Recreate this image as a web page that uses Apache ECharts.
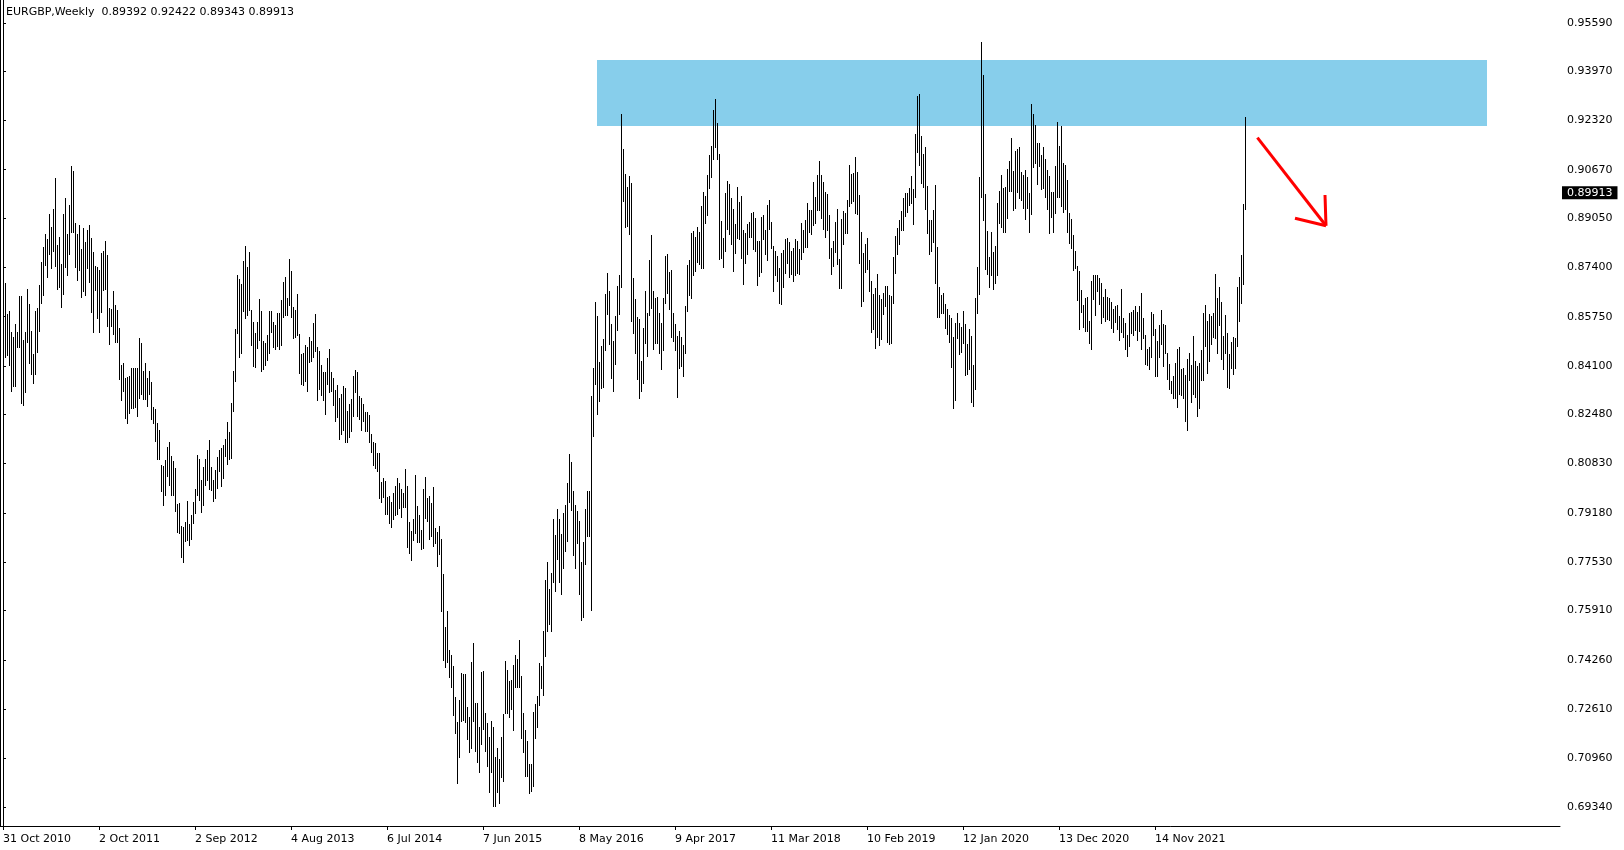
<!DOCTYPE html>
<html><head><meta charset="utf-8">
<script src="https://cdn.jsdelivr.net/npm/echarts@6/dist/echarts.min.js"></script>
<style>html,body{margin:0;padding:0;background:#fff}#c{width:1624px;height:850px}</style>
</head><body><div id="c"></div>
<script>
const symbolName = 'EURGBP,Weekly';
const lastBarOHLC = [0.89392, 0.92422, 0.89343, 0.89913];
const dateTickIndex = [0,48,96,144,192,240,288,336,384,432,480,528,576];
const dateTickLabels = ['31 Oct 2010','2 Oct 2011','2 Sep 2012','4 Aug 2013','6 Jul 2014','7 Jun 2015','8 May 2016','9 Apr 2017','11 Mar 2018','10 Feb 2019','12 Jan 2020','13 Dec 2020','14 Nov 2021'];
const priceTicks = [0.95590,0.93970,0.92320,0.90670,0.89050,0.87400,0.85750,0.84100,0.82480,0.80830,0.79180,0.77530,0.75910,0.74260,0.72610,0.70960,0.69340];
const zoneBars = [297, 742];
const zonePrices = [0.94344, 0.92134];
const arrowSegments = [
  [[627.2,0.91743],[661.5,0.88796]],
  [[661.0,0.89824],[661.5,0.88796]],
  [[646.0,0.89044],[661.5,0.88796]]
];
const highs = [
0.8815,0.8689,0.8584,0.8594,0.8525,0.8508,0.8550,0.8525,0.8645,0.8645,
0.8497,0.8525,0.8668,0.8617,0.8528,0.8450,0.8593,0.8605,0.8682,0.8758,
0.8808,0.8852,0.8835,0.8919,0.8875,0.8936,0.9039,0.8815,0.8842,0.8750,
0.8919,0.8974,0.8852,0.8949,0.9080,0.9062,0.8890,0.8853,0.8883,0.8802,
0.8873,0.8826,0.8864,0.8882,0.8838,0.8790,0.8745,0.8741,0.8730,0.8789,
0.8796,0.8829,0.8783,0.8605,0.8602,0.8661,0.8615,0.8597,0.8538,0.8413,
0.8420,0.8370,0.8374,0.8375,0.8404,0.8404,0.8404,0.8402,0.8504,0.8487,
0.8393,0.8420,0.8369,0.8394,0.8355,0.8273,0.8267,0.8220,0.8196,0.8079,
0.8075,0.8096,0.8140,0.8155,0.8110,0.8093,0.8068,0.7947,0.7950,0.7874,
0.7872,0.7889,0.7959,0.7880,0.7912,0.7955,0.7998,0.8113,0.8098,0.8027,
0.8073,0.8097,0.8128,0.8161,0.8072,0.8027,0.8062,0.8105,0.8129,0.8134,
0.8145,0.8165,0.8221,0.8188,0.8285,0.8393,0.8533,0.8714,0.8700,0.8683,
0.8761,0.8812,0.8740,0.8790,0.8597,0.8558,0.8520,0.8558,0.8634,0.8594,
0.8494,0.8488,0.8514,0.8594,0.8594,0.8557,0.8546,0.8587,0.8587,0.8631,
0.8691,0.8707,0.8636,0.8767,0.8727,0.8608,0.8597,0.8650,0.8517,0.8450,
0.8453,0.8480,0.8472,0.8506,0.8495,0.8555,0.8584,0.8472,0.8460,0.8413,
0.8391,0.8389,0.8438,0.8466,0.8391,0.8370,0.8331,0.8346,0.8302,0.8316,
0.8344,0.8337,0.8259,0.8283,0.8298,0.8377,0.8396,0.8390,0.8311,0.8303,
0.8282,0.8256,0.8256,0.8245,0.8182,0.8155,0.8151,0.8117,0.8117,0.8023,
0.8035,0.8026,0.7972,0.7974,0.7956,0.7983,0.8008,0.8034,0.8019,0.7998,
0.7983,0.8065,0.8008,0.7887,0.7857,0.7896,0.8045,0.7941,0.7910,0.7861,
0.7998,0.8037,0.7968,0.7975,0.7952,0.8005,0.7867,0.7853,0.7874,0.7831,
0.7713,0.7537,0.7590,0.7459,0.7442,0.7405,0.7303,0.7219,0.7292,0.7381,
0.7378,0.7378,0.7269,0.7236,0.7418,0.7482,0.7280,0.7280,0.7202,0.7385,
0.7389,0.7247,0.7213,0.7169,0.7221,0.7202,0.7102,0.7130,0.7094,0.7169,
0.7245,0.7423,0.7392,0.7356,0.7359,0.7409,0.7442,0.7428,0.7493,0.7372,
0.7247,0.7191,0.7154,0.7077,0.7077,0.7251,0.7277,0.7306,0.7414,0.7405,
0.7524,0.7693,0.7755,0.7662,0.7716,0.7897,0.7844,0.7930,0.7897,0.7846,
0.7917,0.7945,0.8019,0.8115,0.8090,0.7992,0.7944,0.7925,0.7891,0.7753,
0.7821,0.7931,0.7992,0.7992,0.8309,0.8404,0.8624,0.8578,0.8423,0.8477,
0.8501,0.8651,0.8722,0.8661,0.8551,0.8493,0.8578,0.8678,0.8716,0.9253,
0.9137,0.9052,0.9009,0.9046,0.9021,0.8703,0.8634,0.8574,0.8567,0.8426,
0.8537,0.8661,0.8586,0.8765,0.8848,0.8661,0.8636,0.8641,0.8587,0.8554,
0.8637,0.8778,0.8785,0.8725,0.8730,0.8587,0.8549,0.8510,0.8526,0.8507,
0.8480,0.8611,0.8748,0.8765,0.8854,0.8862,0.8841,0.8875,0.8859,0.8946,
0.8992,0.8979,0.9049,0.9116,0.9146,0.9266,0.9304,0.9222,0.9120,0.8895,
0.8840,0.8990,0.9029,0.9019,0.8974,0.8936,0.8886,0.9009,0.8959,0.8979,
0.8864,0.8855,0.8885,0.8893,0.8922,0.8925,0.8905,0.8827,0.8827,0.8909,
0.8915,0.8864,0.8948,0.8966,0.8892,0.8810,0.8795,0.8778,0.8738,0.8788,
0.8797,0.8834,0.8838,0.8824,0.8795,0.8804,0.8835,0.8828,0.8802,0.8887,
0.8864,0.8898,0.8956,0.8932,0.8932,0.9026,0.8977,0.9048,0.9096,0.9049,
0.9027,0.8992,0.8986,0.8916,0.8805,0.8827,0.8892,0.8936,0.8768,0.8902,
0.8929,0.8923,0.8966,0.9083,0.9054,0.9055,0.9110,0.9059,0.8982,0.8859,
0.8787,0.8818,0.8837,0.8765,0.8696,0.8651,0.8672,0.8718,0.8648,0.8635,
0.8654,0.8678,0.8678,0.8648,0.8645,0.8774,0.8845,0.8872,0.8899,0.8929,
0.8972,0.8988,0.8990,0.9007,0.9046,0.9003,0.9187,0.9315,0.9321,0.9180,
0.9120,0.9143,0.9014,0.8899,0.8899,0.8932,0.9016,0.8808,0.8676,0.8648,
0.8654,0.8616,0.8601,0.8581,0.8569,0.8508,0.8555,0.8587,0.8554,0.8541,
0.8594,0.8550,0.8484,0.8534,0.8510,0.8413,0.8639,0.8741,0.9043,0.9495,
0.9384,0.8986,0.8862,0.8775,0.8859,0.8792,0.8812,0.8956,0.8996,0.9049,
0.9006,0.9010,0.9070,0.9096,0.9173,0.9063,0.9130,0.9135,0.9143,0.9060,
0.9050,0.9066,0.9041,0.8990,0.9287,0.9254,0.9217,0.9155,0.9157,0.9116,
0.9143,0.9104,0.9067,0.9047,0.8994,0.8994,0.9079,0.9227,0.9146,0.9213,
0.9090,0.9083,0.9033,0.8922,0.8902,0.8849,0.8795,0.8745,0.8728,0.8664,
0.8614,0.8638,0.8642,0.8561,0.8694,0.8714,0.8714,0.8714,0.8705,0.8688,
0.8642,0.8668,0.8641,0.8636,0.8624,0.8601,0.8611,0.8614,0.8577,0.8668,
0.8569,0.8555,0.8514,0.8588,0.8591,0.8597,0.8611,0.8591,0.8611,0.8654,
0.8569,0.8514,0.8466,0.8474,0.8591,0.8584,0.8534,0.8495,0.8547,0.8597,
0.8551,0.8547,0.8453,0.8417,0.8360,0.8376,0.8420,0.8467,0.8474,0.8399,
0.8404,0.8380,0.8434,0.8453,0.8413,0.8510,0.8427,0.8410,0.8419,0.8463,
0.8588,0.8614,0.8562,0.8584,0.8577,0.8588,0.8718,0.8638,0.8674,0.8624,
0.8510,0.8581,0.8520,0.8450,0.8490,0.8507,0.8502,0.8674,0.8708,0.8782,
0.8952,0.92422
];
const lows = [
0.8645,0.8441,0.8447,0.8414,0.8327,0.8344,0.8344,0.8475,0.8475,0.8287,
0.8279,0.8324,0.8489,0.8419,0.8383,0.8352,0.8382,0.8456,0.8528,0.8622,
0.8648,0.8748,0.8709,0.8786,0.8737,0.8796,0.8745,0.8667,0.8676,0.8606,
0.8650,0.8742,0.8716,0.8786,0.8860,0.8860,0.8740,0.8699,0.8731,0.8640,
0.8660,0.8649,0.8737,0.8691,0.8592,0.8525,0.8664,0.8572,0.8525,0.8591,
0.8664,0.8668,0.8545,0.8482,0.8543,0.8516,0.8491,0.8491,0.8367,0.8297,
0.8325,0.8235,0.8218,0.8251,0.8268,0.8268,0.8274,0.8242,0.8304,0.8315,
0.8298,0.8298,0.8276,0.8315,0.8231,0.8220,0.8159,0.8100,0.8097,0.7992,
0.7944,0.7978,0.8043,0.8010,0.7978,0.7977,0.7924,0.7855,0.7852,0.7769,
0.7753,0.7825,0.7827,0.7811,0.7830,0.7883,0.7917,0.7978,0.7961,0.7922,
0.7944,0.8010,0.8027,0.7998,0.7994,0.7958,0.7967,0.8002,0.8057,0.8008,
0.8034,0.8110,0.8081,0.8097,0.8101,0.8260,0.8361,0.8521,0.8441,0.8452,
0.8595,0.8572,0.8581,0.8597,0.8480,0.8411,0.8408,0.8469,0.8497,0.8394,
0.8401,0.8413,0.8430,0.8452,0.8525,0.8472,0.8467,0.8478,0.8467,0.8479,
0.8573,0.8581,0.8581,0.8615,0.8573,0.8503,0.8507,0.8514,0.8385,0.8350,
0.8346,0.8361,0.8326,0.8422,0.8427,0.8441,0.8461,0.8296,0.8334,0.8312,
0.8296,0.8249,0.8348,0.8324,0.8327,0.8278,0.8227,0.8238,0.8164,0.8182,
0.8196,0.8157,0.8154,0.8173,0.8191,0.8244,0.8322,0.8243,0.8231,0.8196,
0.8227,0.8193,0.8191,0.8157,0.8123,0.8077,0.8069,0.8059,0.7969,0.7956,
0.7972,0.7914,0.7913,0.7883,0.7870,0.7899,0.7910,0.7914,0.7935,0.7905,
0.7937,0.7937,0.7805,0.7785,0.7760,0.7827,0.7850,0.7819,0.7822,0.7796,
0.7799,0.7902,0.7892,0.7829,0.7842,0.7807,0.7816,0.7741,0.7780,0.7591,
0.7425,0.7401,0.7419,0.7370,0.7336,0.7242,0.7180,0.7013,0.7102,0.7221,
0.7225,0.7219,0.7162,0.7116,0.7130,0.7222,0.7122,0.7085,0.7052,0.7144,
0.7193,0.7122,0.7072,0.6985,0.7052,0.6935,0.6935,0.6982,0.6948,0.7035,
0.7022,0.7247,0.7247,0.7236,0.7260,0.7191,0.7334,0.7336,0.7334,0.7166,
0.7118,0.7038,0.7037,0.6979,0.6988,0.7004,0.7163,0.7202,0.7275,0.7331,
0.7308,0.7440,0.7524,0.7546,0.7524,0.7688,0.7658,0.7763,0.7688,0.7647,
0.7732,0.7790,0.7825,0.7956,0.7928,0.7778,0.7732,0.7818,0.7646,0.7561,
0.7568,0.7748,0.7839,0.7839,0.7594,0.8174,0.8351,0.8248,0.8294,0.8335,
0.8340,0.8465,0.8585,0.8483,0.8371,0.8327,0.8416,0.8529,0.8585,0.8674,
0.8961,0.8876,0.8880,0.8853,0.8562,0.8521,0.8454,0.8365,0.8302,0.8327,
0.8354,0.8486,0.8444,0.8580,0.8605,0.8466,0.8486,0.8488,0.8452,0.8399,
0.8462,0.8620,0.8655,0.8600,0.8508,0.8493,0.8463,0.8307,0.8402,0.8411,
0.8378,0.8452,0.8595,0.8647,0.8636,0.8713,0.8729,0.8759,0.8752,0.8739,
0.8739,0.8887,0.8916,0.9005,0.9044,0.9103,0.9144,0.9103,0.8768,0.8770,
0.8742,0.8796,0.8869,0.8851,0.8819,0.8728,0.8787,0.8837,0.8836,0.8773,
0.8686,0.8756,0.8786,0.8843,0.8843,0.8802,0.8795,0.8682,0.8711,0.8726,
0.8835,0.8784,0.8766,0.8870,0.8804,0.8662,0.8713,0.8696,0.8622,0.8616,
0.8675,0.8722,0.8755,0.8709,0.8718,0.8693,0.8714,0.8720,0.8718,0.8769,
0.8793,0.8809,0.8808,0.8859,0.8851,0.8883,0.8888,0.8932,0.8932,0.8905,
0.8869,0.8843,0.8865,0.8773,0.8718,0.8746,0.8792,0.8752,0.8670,0.8670,
0.8820,0.8856,0.8856,0.8947,0.8957,0.8961,0.8923,0.8918,0.8756,0.8612,
0.8629,0.8723,0.8733,0.8662,0.8525,0.8533,0.8469,0.8506,0.8479,0.8499,
0.8585,0.8612,0.8491,0.8482,0.8486,0.8620,0.8720,0.8786,0.8819,0.8866,
0.8865,0.8912,0.8927,0.8949,0.8955,0.8885,0.8977,0.9126,0.9083,0.9024,
0.9010,0.8936,0.8856,0.8784,0.8795,0.8825,0.8689,0.8573,0.8573,0.8586,
0.8586,0.8538,0.8516,0.8491,0.8408,0.8270,0.8296,0.8503,0.8450,0.8457,
0.8486,0.8380,0.8382,0.8400,0.8290,0.8277,0.8333,0.8587,0.8651,0.8977,
0.8899,0.8735,0.8718,0.8676,0.8715,0.8667,0.8687,0.8715,0.8890,0.8876,
0.8860,0.8860,0.8907,0.8996,0.8996,0.8933,0.8940,0.8991,0.8973,0.8964,
0.8940,0.8903,0.8940,0.8860,0.8920,0.9077,0.9090,0.9020,0.9078,0.9003,
0.9005,0.8977,0.8937,0.8856,0.8910,0.8860,0.8923,0.8977,0.8977,0.8947,
0.8927,0.8936,0.8860,0.8823,0.8806,0.8732,0.8737,0.8631,0.8535,0.8592,
0.8542,0.8528,0.8528,0.8488,0.8468,0.8635,0.8582,0.8660,0.8619,0.8555,
0.8573,0.8559,0.8566,0.8563,0.8538,0.8525,0.8558,0.8533,0.8498,0.8525,
0.8506,0.8466,0.8444,0.8478,0.8520,0.8514,0.8530,0.8496,0.8527,0.8468,
0.8502,0.8418,0.8414,0.8399,0.8439,0.8514,0.8377,0.8375,0.8439,0.8484,
0.8411,0.8452,0.8365,0.8332,0.8318,0.8302,0.8303,0.8274,0.8315,0.8313,
0.8302,0.8227,0.8197,0.8362,0.8290,0.8316,0.8305,0.8244,0.8268,0.8362,
0.8362,0.8478,0.8388,0.8428,0.8484,0.8508,0.8505,0.8452,0.8547,0.8434,
0.8399,0.8453,0.8341,0.8335,0.8403,0.8384,0.8404,0.8478,0.8562,0.8622,
0.8686,0.89343
];

const FONT = 'DejaVu Sans';
const barData = highs.map((h, i) => [i, h, lows[i]]);
const chart = echarts.init(document.getElementById('c'), null, {renderer: 'canvas'});
chart.setOption({
  animation: false,
  backgroundColor: '#ffffff',
  title: {
    text: symbolName + '  ' + lastBarOHLC.map(v => v.toFixed(5)).join(' '),
    left: 6, top: 6, padding: 0,
    textStyle: {fontFamily: FONT, fontSize: 11, fontWeight: 'normal', color: '#000', lineHeight: 13}
  },
  grid: {left: 0, top: 0, width: 1560, height: 826, containLabel: false, outerBoundsMode: 'none', show: false},
  graphic: [{type: 'line', shape: {x1: 0.5, y1: 0, x2: 0.5, y2: 826}, style: {stroke: '#000', lineWidth: 1}, silent: true}],
  xAxis: {
    type: 'value', min: -1.5, max: 778.5,
    splitLine: {show: false},
    axisLine: {show: true, lineStyle: {color: '#000', width: 1}},
    axisTick: {show: true, length: 4, lineStyle: {color: '#000'}, customValues: dateTickIndex},
    axisLabel: {
      customValues: dateTickIndex, align: 'left', margin: 8,
      fontFamily: FONT, fontSize: 11, color: '#000',
      formatter: v => dateTickLabels[dateTickIndex.indexOf(Math.round(v))] || ''
    }
  },
  yAxis: {
    type: 'value', position: 'right', min: 0.68697, max: 0.96353, scale: true,
    splitLine: {show: false},
    axisLine: {show: true, lineStyle: {color: '#000', width: 1}},
    axisTick: {show: true, length: 3, lineStyle: {color: '#000'}, customValues: priceTicks},
    axisLabel: {
      customValues: priceTicks, margin: 7, padding: [4, 0, 0, 0],
      fontFamily: FONT, fontSize: 11, color: '#000',
      formatter: v => v.toFixed(5)
    }
  },
  series: [
    {
      type: 'line', data: [], z: 1, silent: true,
      markArea: {
        silent: true,
        itemStyle: {color: '#87CEEB', opacity: 1},
        data: [[{xAxis: zoneBars[0], yAxis: zonePrices[0]}, {xAxis: zoneBars[1], yAxis: zonePrices[1]}]]
      }
    },
    {
      type: 'custom', z: 2, silent: true, clip: true,
      data: barData,
      encode: {x: 0, y: [1, 2]},
      renderItem: function (params, api) {
        const i = api.value(0);
        const top = api.coord([i, api.value(1)]);
        const bot = api.coord([i, api.value(2)]);
        const x = Math.round(top[0]);
        const y1 = Math.round(top[1]);
        const y2 = Math.round(bot[1]);
        return {type: 'rect', shape: {x: x, y: y1, width: 1, height: Math.max(1, y2 - y1 + 1)}, style: {fill: '#000'}};
      }
    },
    {
      type: 'line', data: [], z: 5, silent: true,
      markLine: {
        silent: true, symbol: ['none', 'none'], animation: false,
        lineStyle: {color: 'rgba(0,0,0,0)', width: 1, type: 'solid'},
        label: {
          show: true, position: 'end', distance: 2, offset: [0, 3],
          formatter: lastBarOHLC[3].toFixed(5),
          color: '#fff', backgroundColor: '#000', padding: [1, 5, 1, 5],
          fontFamily: FONT, fontSize: 11
        },
        data: [{yAxis: lastBarOHLC[3]}]
      }
    },
    {
      type: 'lines', coordinateSystem: 'cartesian2d', z: 3, silent: true,
      lineStyle: {color: '#ff0000', width: 3, opacity: 1},
      data: arrowSegments.map(c => ({coords: c}))
    }
  ]
});
</script>
</body></html>
